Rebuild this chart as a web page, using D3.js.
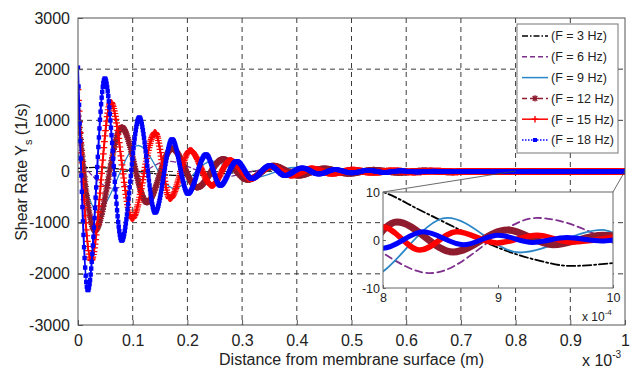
<!DOCTYPE html>
<html>
<head>
<meta charset="utf-8">
<script src="https://cdn.jsdelivr.net/npm/d3@7"></script>
<style>
  html, body { margin: 0; padding: 0; background: #fff; }
  svg { display: block; font-family: "Liberation Sans", Arial, sans-serif; }
</style>
</head>
<body>
<svg id="chart" width="634" height="371"></svg>
<script>
// ---------------- data (x in units of 1e-3 m, y in 1/s) ----------------
const xTicks = [0, 0.1, 0.2, 0.3, 0.4, 0.5, 0.6, 0.7, 0.8, 0.9, 1];
const xTickLabels = ["0", "0.1", "0.2", "0.3", "0.4", "0.5", "0.6", "0.7", "0.8", "0.9", "1"];
const yTicks = [-3000, -2000, -1000, 0, 1000, 2000, 3000];
const insetXTicks = [0.8, 0.9, 1.0];
const insetXTickLabels = ["8", "9", "10"];
const insetYTicks = [-10, 0, 10];
const seriesNames = ["(F = 3 Hz)", "(F = 6 Hz)", "(F = 9 Hz)", "(F = 12 Hz)", "(F = 15 Hz)", "(F = 18 Hz)"];

const f3 = [[0, 60], [0.03, 80], [0.19, -80], [0.4, 45], [0.59, -25], [0.75, 12],
  [0.8, 10], [0.832, 6.25], [0.867, 2.1], [0.899, -1.5], [0.934, -4.2], [0.963, -5.4], [1.0, -4.8]];

const f6 = [[0, 250], [0.065, -330], [0.165, 200], [0.26, -110], [0.36, 65], [0.46, -40],
  [0.555, 24], [0.65, -15], [0.745, 9.5], [0.8, -2.7], [0.841, -6.9], [0.934, 4.6], [1.0, -0.6]];

const f9 = [[0, 350], [0.035, -760], [0.11, 508], [0.175, -330], [0.245, 200], [0.32, -125],
  [0.395, 80], [0.47, -52], [0.55, 34], [0.63, -22], [0.708, 14.5], [0.785, -8],
  [0.856, 4.6], [0.919, -2.6], [0.991, 2.1], [1.0, 1.5]];

const f12 = [[0, 1200], [0.031, -1150], [0.08, 860], [0.126, -600], [0.172, 450], [0.218, -310],
  [0.265, 240], [0.31, -160], [0.357, 110], [0.403, -78], [0.45, 55], [0.495, -40],
  [0.54, 28], [0.587, -20], [0.633, 14], [0.68, -10], [0.725, 7], [0.77, -5],
  [0.812, 3.75], [0.861, -2.5], [0.908, 2.1], [0.948, -1.0], [0.991, 1.0], [1.0, 0.9]];

const f15 = [[0, 1600], [0.024, -1740], [0.06, 1350], [0.099, -920], [0.141, 760], [0.168, -530],
  [0.205, 410], [0.245, -273], [0.278, 215], [0.315, -140], [0.353, 100], [0.39, -70],
  [0.427, 50], [0.464, -36], [0.502, 26], [0.539, -19], [0.576, 14], [0.614, -10],
  [0.651, 7.5], [0.688, -5.5], [0.726, 4.2], [0.763, -3.2], [0.80, 2.7], [0.832, -2.1],
  [0.864, 1.7], [0.899, -0.6], [0.934, 1.0], [0.963, -0.4], [1.0, 0.6]];

const f18 = [[0, 2030], [0.018, -2320], [0.049, 1816], [0.080, -1350], [0.112, 1055], [0.141, -800],
  [0.172, 625], [0.201, -430], [0.234, 330], [0.26, -273], [0.29, 200], [0.318, -137],
  [0.351, 117], [0.378, -78], [0.41, 70], [0.44, -50], [0.47, 38], [0.5, -28],
  [0.53, 22], [0.56, -16], [0.59, 12], [0.62, -9], [0.65, 7], [0.68, -5], [0.71, 4],
  [0.74, -3], [0.77, 2.3], [0.8, -1.7], [0.835, 1.7], [0.87, -1.0], [0.9, 1.0],
  [0.93, -0.5], [0.96, 0.5], [0.99, -0.2], [1.0, 0]];

// ---------------- styles ----------------
const styles = [
  { data: f3,  color: "#000000", w: 1.3, wi: 1.8, dash: "6,2,1.5,2" },
  { data: f6,  color: "#7e2f8e", w: 1.3, wi: 1.8, dash: "5,3" },
  { data: f9,  color: "#2a86c6", w: 1.3, wi: 1.8, dash: null },
  { data: f12, color: "#8e1b2e", w: 3,   wi: 7,   dash: null, marker: "star" },
  { data: f15, color: "#ff0000", w: 2,   wi: 5.5, dash: null, marker: "plus" },
  { data: f18, color: "#0000ff", w: 2,   wi: 5,   dash: null, marker: "square" }
];

const FONT = "'Liberation Sans', Arial, sans-serif";
const svg = d3.select("#chart");
const L = 78, R = 625, T = 18, B = 325;
const x = d3.scaleLinear().domain([0, 1]).range([L, R]);
const y = d3.scaleLinear().domain([-3000, 3000]).range([B, T]);

const gridColor = "#3a3a3a";
const axisColor = "#555";

// grid
svg.append("g").selectAll("line").data(xTicks.slice(1, -1)).join("line")
  .attr("x1", d => x(d)).attr("x2", d => x(d)).attr("y1", T).attr("y2", B)
  .attr("stroke", gridColor).attr("stroke-width", 1).attr("stroke-dasharray", "5,4");
svg.append("g").selectAll("line").data(yTicks.slice(1, -1)).join("line")
  .attr("x1", L).attr("x2", R).attr("y1", d => y(d)).attr("y2", d => y(d))
  .attr("stroke", gridColor).attr("stroke-width", 1).attr("stroke-dasharray", "5,4");

// clip
const defs = svg.append("defs");
defs.append("clipPath").attr("id", "clipMain").append("rect")
  .attr("x", L).attr("y", T).attr("width", R - L).attr("height", B - T);

function markerPath(type, s) {
  if (type === "plus") return `M${-s},0H${s}M0,${-s}V${s}`;
  if (type === "star") {
    const d = s * 0.72;
    return `M${-s},0H${s}M0,${-s}V${s}M${-d},${-d}L${d},${d}M${-d},${d}L${d},${-d}`;
  }
  return null;
}

// place markers along a rendered path at uniform horizontal steps
function addMarkers(g, node, s, stepPx) {
  const len = node.getTotalLength();
  let p0 = node.getPointAtLength(0);
  let nextX = p0.x;
  const pts = [];
  for (let l = 0; l <= len; l += 0.3) {
    const p = node.getPointAtLength(l);
    if (p.x >= nextX) { pts.push(p); nextX += stepPx; }
  }
  if (s.marker === "square") {
    g.append("g").selectAll("rect").data(pts).join("rect")
      .attr("x", d => d.x - 2.2).attr("y", d => d.y - 2.2).attr("width", 4.4).attr("height", 4.4)
      .attr("fill", s.color);
  } else {
    const size = s.marker === "plus" ? 3.4 : 3.2;
    g.append("g").selectAll("path").data(pts).join("path")
      .attr("d", markerPath(s.marker, size))
      .attr("transform", d => `translate(${d.x},${d.y})`)
      .attr("stroke", s.color).attr("stroke-width", 1.2).attr("fill", "none");
  }
}

const line = d3.line().x(d => x(d[0])).y(d => y(d[1])).curve(d3.curveMonotoneX);
const gLines = svg.append("g").attr("clip-path", "url(#clipMain)");
styles.forEach(s => {
  const p = gLines.append("path").datum(s.data).attr("d", line)
    .attr("fill", "none").attr("stroke", s.color).attr("stroke-width", s.w)
    .attr("stroke-linejoin", "round").attr("stroke-linecap", "round")
    .attr("stroke-dasharray", s.dash);
  if (s.marker) addMarkers(gLines, p.node(), s, 0.55);
});

// axes box
svg.append("rect").attr("x", L).attr("y", T).attr("width", R - L).attr("height", B - T)
  .attr("fill", "none").attr("stroke", axisColor).attr("stroke-width", 1);

const xAxis = d3.axisBottom(x).tickValues(xTicks).tickFormat((d, i) => xTickLabels[i])
  .tickSizeInner(-5).tickSizeOuter(0).tickPadding(10);
const gx = svg.append("g").attr("transform", `translate(0,${B})`).call(xAxis);
const yAxis = d3.axisLeft(y).tickValues(yTicks).tickFormat(d => String(d))
  .tickSizeInner(-5).tickSizeOuter(0).tickPadding(8);
const gy = svg.append("g").attr("transform", `translate(${L},0)`).call(yAxis);
[gx, gy].forEach(g => {
  g.select(".domain").remove();
  g.selectAll(".tick line").attr("stroke", axisColor);
  g.selectAll(".tick text").attr("fill", "#222").style("font-size", "16px")
    .style("font-family", FONT);
});
gx.selectAll(".tick text").attr("dy", "0.71em");

// axis labels
svg.append("text").attr("x", (L + R) / 2).attr("y", 365).attr("text-anchor", "middle")
  .attr("fill", "#222").style("font-size", "16px").text("Distance from membrane surface (m)");
const yl = svg.append("text").attr("transform", "translate(27,172) rotate(-90)")
  .attr("text-anchor", "middle").attr("fill", "#222").style("font-size", "16px");
yl.append("tspan").text("Shear Rate Y");
yl.append("tspan").attr("dy", 5).style("font-size", "11px").text("s");
yl.append("tspan").attr("dy", -5).text(" (1/s)");

const ex = svg.append("text").attr("x", 582).attr("y", 366).attr("fill", "#222").style("font-size", "16px");
ex.append("tspan").text("x 10");
ex.append("tspan").attr("dy", -8).style("font-size", "10px").text("-3");

// ---------------- inset ----------------
const iL = 383, iR = 613, iT = 192, iB = 288;
const xi = d3.scaleLinear().domain([0.8, 1.0]).range([iL, iR]);
const yi = d3.scaleLinear().domain([-10, 10]).range([iB, iT]);

// connector lines from zoom region in main axes to inset corners
svg.append("line").attr("x1", x(0.8)).attr("y1", y(10)).attr("x2", iL).attr("y2", iT)
  .attr("stroke", "#444").attr("stroke-width", 0.8);
svg.append("line").attr("x1", x(1.0)).attr("y1", y(10)).attr("x2", iR).attr("y2", iT)
  .attr("stroke", "#444").attr("stroke-width", 0.8);

svg.append("rect").attr("x", iL).attr("y", iT).attr("width", iR - iL).attr("height", iB - iT)
  .attr("fill", "#fff").attr("stroke", "none");
defs.append("clipPath").attr("id", "clipInset").append("rect")
  .attr("x", iL).attr("y", iT).attr("width", iR - iL).attr("height", iB - iT);
const lineI = d3.line().x(d => xi(d[0])).y(d => yi(d[1])).curve(d3.curveMonotoneX);
const gIn = svg.append("g").attr("clip-path", "url(#clipInset)");
styles.forEach(s => {
  gIn.append("path").datum(s.data.filter(d => d[0] >= 0.7)).attr("d", lineI)
    .attr("fill", "none").attr("stroke", s.color).attr("stroke-width", s.wi)
    .attr("stroke-linejoin", "round").attr("stroke-linecap", "round")
    .attr("stroke-dasharray", s.dash ? s.dash.split(",").map(v => v * 1.4).join(",") : null);
});
svg.append("rect").attr("x", iL).attr("y", iT).attr("width", iR - iL).attr("height", iB - iT)
  .attr("fill", "none").attr("stroke", "#666").attr("stroke-width", 1);

const xiAxis = d3.axisBottom(xi).tickValues(insetXTicks).tickFormat((d, i) => insetXTickLabels[i])
  .tickSizeInner(-3).tickSizeOuter(0).tickPadding(5);
const gxi = svg.append("g").attr("transform", `translate(0,${iB})`).call(xiAxis);
const yiAxis = d3.axisLeft(yi).tickValues(insetYTicks).tickFormat(d => String(d))
  .tickSizeInner(-3).tickSizeOuter(0).tickPadding(3);
const gyi = svg.append("g").attr("transform", `translate(${iL},0)`).call(yiAxis);
[gxi, gyi].forEach(g => {
  g.select(".domain").remove();
  g.selectAll(".tick line").attr("stroke", "#666");
  g.selectAll(".tick text").attr("fill", "#222").style("font-size", "12.5px")
    .style("font-family", FONT);
});
const ei = svg.append("text").attr("x", 582).attr("y", 321).attr("fill", "#222").style("font-size", "12px");
ei.append("tspan").text("x 10");
ei.append("tspan").attr("dy", -6).style("font-size", "8px").text("-4");

// ---------------- legend ----------------
const lgX = 517, lgY = 24, lgW = 101, lgH = 129;
svg.append("rect").attr("x", lgX).attr("y", lgY).attr("width", lgW).attr("height", lgH)
  .attr("fill", "#fff").attr("stroke", "#777").attr("stroke-width", 1);
const rowY = d3.scaleLinear().domain([0, 5]).range([36, 140]);
styles.forEach((s, i) => {
  const yy = rowY(i);
  svg.append("line").attr("x1", 522).attr("x2", 548).attr("y1", yy).attr("y2", yy)
    .attr("stroke", s.color).attr("stroke-width", 1.5)
    .attr("stroke-dasharray", i === 3 ? "5,3" : i === 5 ? "1.5,1.5" : s.dash);
  if (s.marker === "square") {
    svg.append("rect").attr("x", 533).attr("y", yy - 2).attr("width", 4).attr("height", 4)
      .attr("fill", s.color);
  } else if (s.marker) {
    svg.append("path").attr("d", markerPath(s.marker, 3.2))
      .attr("transform", `translate(535,${yy})`).attr("stroke", s.color)
      .attr("stroke-width", 1.4).attr("fill", "none");
  }
  svg.append("text").attr("x", 551).attr("y", yy).attr("dy", "0.35em").attr("fill", "#222")
    .style("font-size", "12.5px").text(seriesNames[i]);
});
</script>
</body>
</html>
